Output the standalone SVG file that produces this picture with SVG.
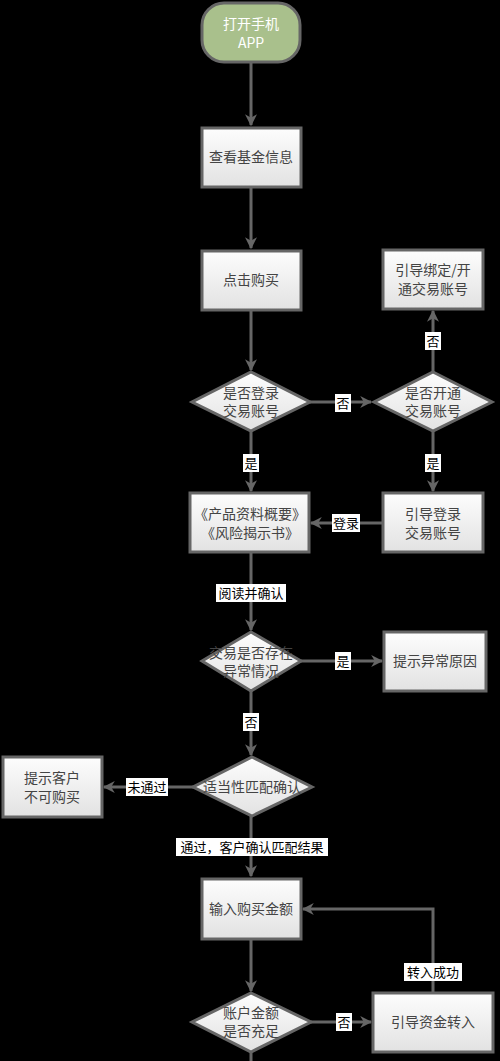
<svg xmlns="http://www.w3.org/2000/svg" width="500" height="1061" viewBox="0 0 500 1061">
<defs>
<linearGradient id="g" x1="0" y1="0" x2="0" y2="1">
<stop offset="0" stop-color="#fdfdfd"/>
<stop offset="1" stop-color="#e2e2e2"/>
</linearGradient>
<marker id="a" viewBox="0 0 10 10" refX="9" refY="5" markerWidth="4" markerHeight="4" orient="auto" markerUnits="strokeWidth">
<path d="M0,0 L10,5 L0,10 L3,5 Z" fill="#666"/>
</marker>
<style>
.n{fill:url(#g);stroke:#666;stroke-width:3}
.t{font-family:"Noto Sans CJK SC","Noto Sans",sans-serif;font-size:14px;fill:#444;text-anchor:middle}
.c{fill:none;stroke:#666;stroke-width:3}
.lb{fill:#fff}
.lt{font-family:"Noto Sans CJK SC","Noto Sans",sans-serif;font-size:13px;fill:#000;text-anchor:middle}
</style>
</defs>
<rect width="500" height="1061" fill="#000"/>
<g id="connectors">
<path class="c" d="M251,62 V125" marker-end="url(#a)"/>
<path class="c" d="M251,187 V248" marker-end="url(#a)"/>
<path class="c" d="M251,310 V370" marker-end="url(#a)"/>
<path class="c" d="M310,402 H371" marker-end="url(#a)"/>
<path class="c" d="M433,372 V311" marker-end="url(#a)"/>
<path class="c" d="M433,431 V491" marker-end="url(#a)"/>
<path class="c" d="M383,523 H311" marker-end="url(#a)"/>
<path class="c" d="M251,431 V491" marker-end="url(#a)"/>
<path class="c" d="M251,552 V630" marker-end="url(#a)"/>
<path class="c" d="M301,661 H382" marker-end="url(#a)"/>
<path class="c" d="M251,691 V755" marker-end="url(#a)"/>
<path class="c" d="M193,787 H104" marker-end="url(#a)"/>
<path class="c" d="M251,816 V876" marker-end="url(#a)"/>
<path class="c" d="M251,939 V991" marker-end="url(#a)"/>
<path class="c" d="M311,1022 H371" marker-end="url(#a)"/>
<path class="c" d="M433,993 V909 H303" marker-end="url(#a)"/>
<path class="c" d="M251,1052 V1061"/>
<rect class="lb" x="335" y="394" width="16" height="18"/><text class="lt" x="343" y="408">否</text>
<rect class="lb" x="425" y="332" width="16" height="18"/><text class="lt" x="433" y="346">否</text>
<rect class="lb" x="425" y="454" width="16" height="18"/><text class="lt" x="433" y="468">是</text>
<rect class="lb" x="243" y="454" width="16" height="18"/><text class="lt" x="251" y="468">是</text>
<rect class="lb" x="332" y="514" width="28" height="18"/><text class="lt" x="346" y="528">登录</text>
<rect class="lb" x="216" y="584" width="70" height="18"/><text class="lt" x="251" y="598">阅读并确认</text>
<rect class="lb" x="335" y="652" width="16" height="18"/><text class="lt" x="343" y="666">是</text>
<rect class="lb" x="243" y="713" width="16" height="18"/><text class="lt" x="251" y="727">否</text>
<rect class="lb" x="126" y="778" width="42" height="18"/><text class="lt" x="147" y="792">未通过</text>
<rect class="lb" x="176" y="838" width="152" height="18"/><text class="lt" x="252" y="852">通过，客户确认匹配结果</text>
<rect class="lb" x="404" y="963" width="58" height="18"/><text class="lt" x="433" y="977">转入成功</text>
<rect class="lb" x="336" y="1013" width="16" height="18"/><text class="lt" x="344" y="1027">否</text>
</g>
<g id="start">
<rect x="202" y="3" width="98" height="59" rx="22" fill="#a9c08c" stroke="#666" stroke-width="3"/>
<text class="t" x="251" y="29" style="fill:#fff">打开手机</text>
<text class="t" x="251" y="48" style="fill:#fff">APP</text>
</g>
<g id="view"><rect class="n" x="202" y="128" width="99" height="59"/><text class="t" x="251" y="162">查看基金信息</text></g>
<g id="buy"><rect class="n" x="202" y="251" width="99" height="59"/><text class="t" x="251" y="285">点击购买</text></g>
<g id="login"><path class="n" d="M251,372 L310,402 L251,431 L192,402 Z"/><text class="t" x="251" y="398">是否登录</text><text class="t" x="251" y="416">交易账号</text></g>
<g id="opened"><path class="n" d="M433,372 L492,402 L433,431 L374,402 Z"/><text class="t" x="433" y="398">是否开通</text><text class="t" x="433" y="416">交易账号</text></g>
<g id="bind"><rect class="n" x="383" y="250" width="100" height="59"/><text class="t" x="433" y="275">引导绑定/开</text><text class="t" x="433" y="294">通交易账号</text></g>
<g id="guidelogin"><rect class="n" x="383" y="493" width="100" height="59"/><text class="t" x="433" y="519">引导登录</text><text class="t" x="433" y="538">交易账号</text></g>
<g id="docs"><rect class="n" x="190" y="493" width="119" height="59"/><text class="t" x="250" y="519">《产品资料概要》</text><text class="t" x="250" y="538">《风险揭示书》</text></g>
<g id="abnormal"><path class="n" d="M251,632 L301,661 L251,691 L202,661 Z"/><text class="t" x="251" y="658">交易是否存在</text><text class="t" x="251" y="676">异常情况</text></g>
<g id="reason"><rect class="n" x="384" y="632" width="102" height="59"/><text class="t" x="435" y="666">提示异常原因</text></g>
<g id="match"><path class="n" d="M252,757 L312,787 L252,816 L193,787 Z"/><text class="t" x="252" y="792">适当性匹配确认</text></g>
<g id="nobuy"><rect class="n" x="3" y="757" width="99" height="60"/><text class="t" x="52" y="783">提示客户</text><text class="t" x="52" y="802">不可购买</text></g>
<g id="amount"><rect class="n" x="202" y="879" width="99" height="60"/><text class="t" x="251" y="914">输入购买金额</text></g>
<g id="enough"><path class="n" d="M251,993 L311,1022 L251,1052 L192,1022 Z"/><text class="t" x="251" y="1018">账户金额</text><text class="t" x="251" y="1036">是否充足</text></g>
<g id="transfer"><rect class="n" x="373" y="993" width="120" height="59"/><text class="t" x="433" y="1027">引导资金转入</text></g>
</svg>
